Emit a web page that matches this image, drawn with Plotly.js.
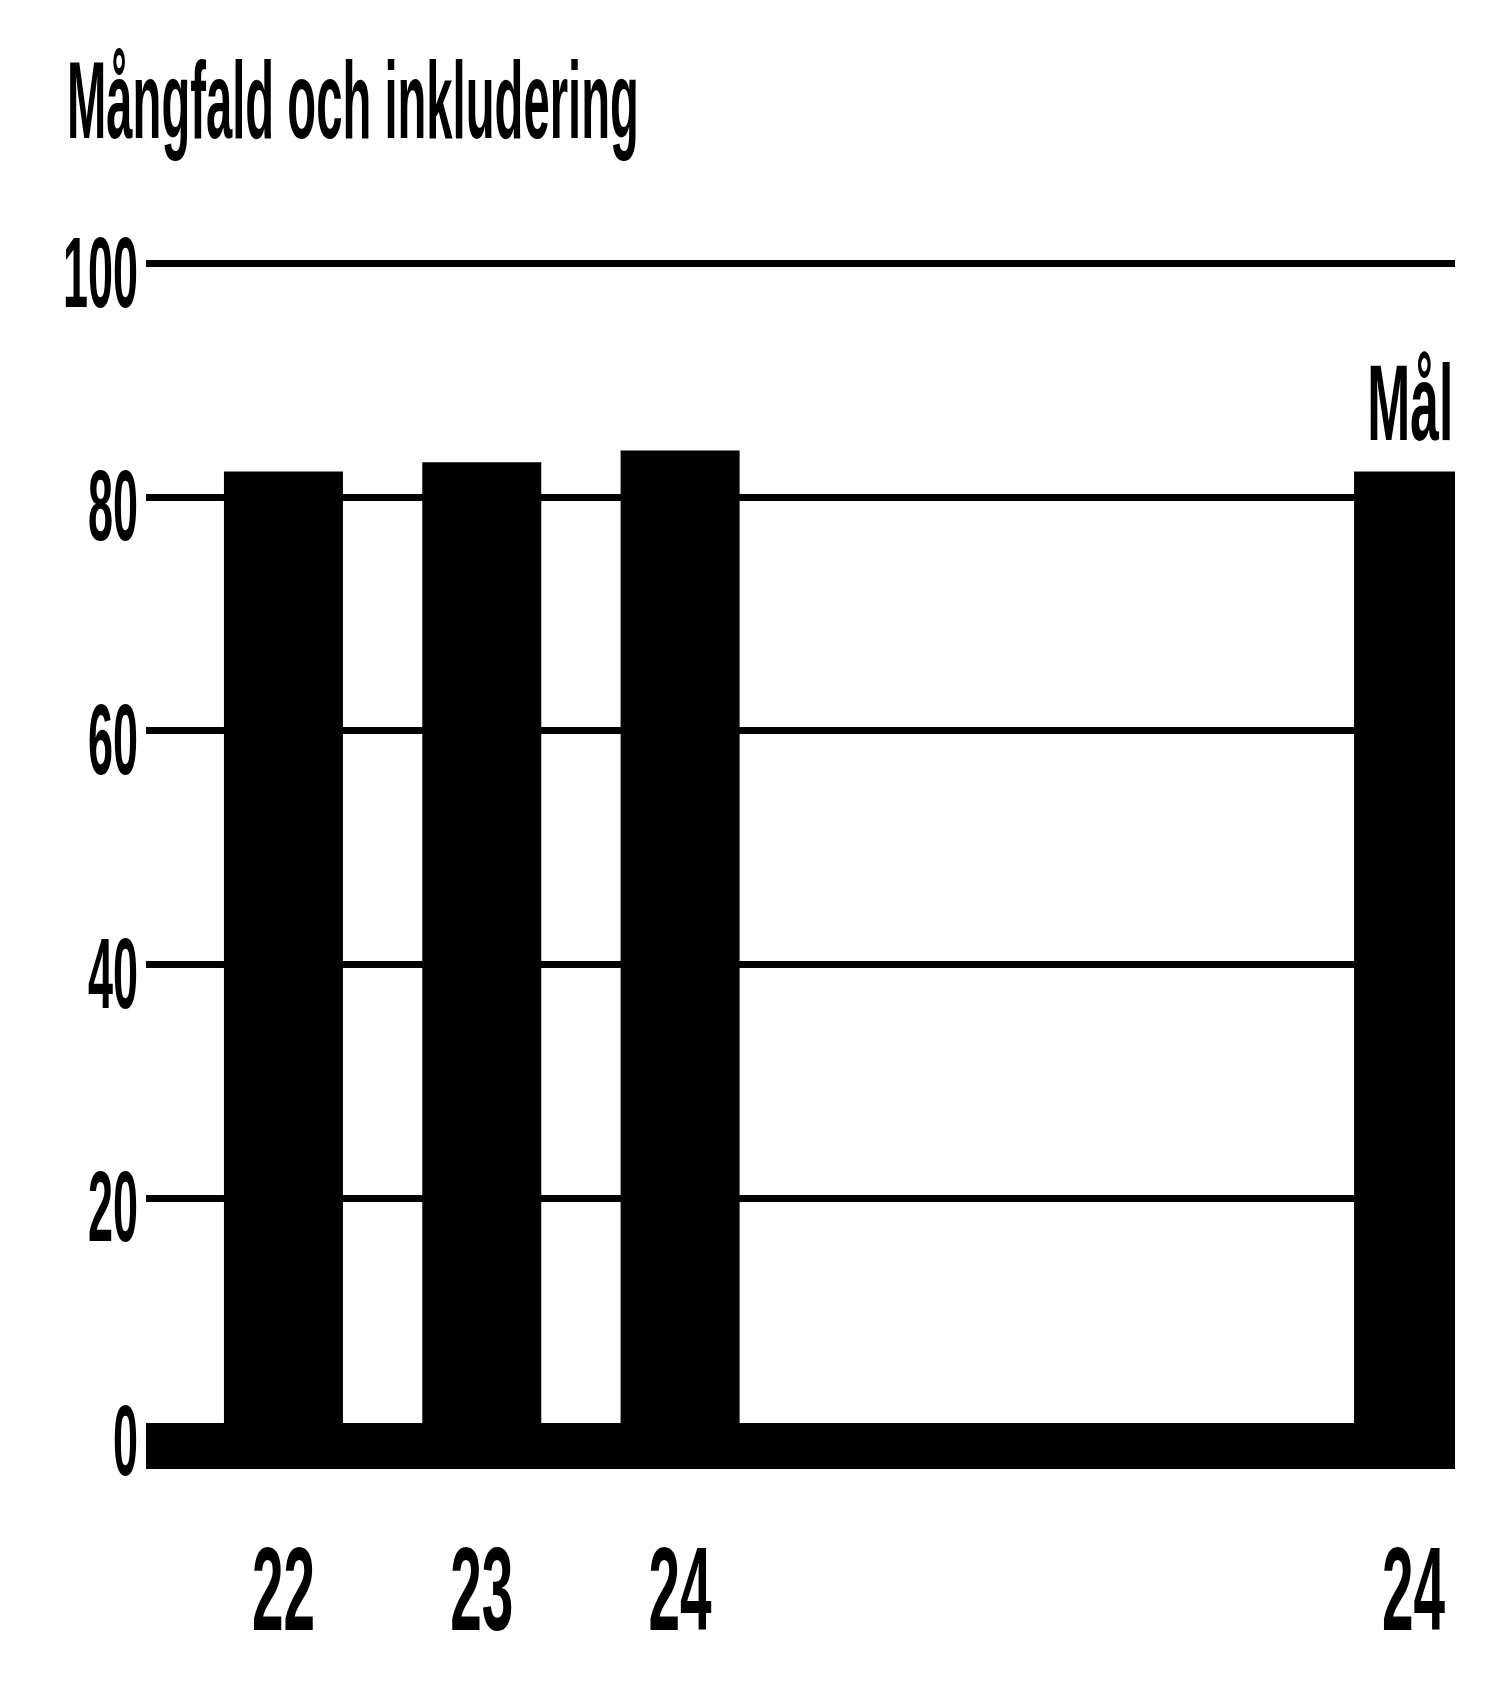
<!DOCTYPE html>
<html>
<head>
<meta charset="utf-8">
<script src="https://cdn.plot.ly/plotly-3.0.1.min.js"></script>
<style>
  html, body { margin: 0; padding: 0; background: #ffffff; }
  #chart { width: 1488px; height: 1683px; }
</style>
</head>
<body>
<div id="chart"></div>
<script>
// ---- data ----
const chartTitle = "Mångfald och inkludering";
const yearLabels = ["22", "23", "24"];
const yearValues = [82.2, 83.0, 84.0];
const targetLabels = ["24"];
const targetValues = [82.2];
const targetCaption = "Mål";
const yTickValues = [0, 20, 40, 60, 80, 100];

const FONT = "Liberation Sans, Arial, sans-serif";
const INK = "#000000";

const traces = [
  {
    type: "bar",
    x: yearLabels,
    y: yearValues,
    xaxis: "x",
    yaxis: "y",
    marker: { color: INK, line: { width: 0 } },
    hoverinfo: "skip",
    showlegend: false
  },
  {
    type: "bar",
    x: targetLabels,
    y: targetValues,
    xaxis: "x2",
    yaxis: "y",
    marker: { color: INK, line: { width: 0 } },
    hoverinfo: "skip",
    showlegend: false
  }
];

const W = 1488, H = 1683;
const mL = 146, mR = 33, mT = 246, mB = 242;
const split = (1000 - mL) / (W - mL - mR);

const xCommon = {
  type: "category",
  showgrid: false,
  zeroline: false,
  showline: true,
  linecolor: INK,
  linewidth: 28,
  ticks: "",
  ticklabelstandoff: 19,
  tickfont: { family: FONT, size: 118, color: INK, weight: "bold" },
  fixedrange: true
};

const layout = {
  width: W,
  height: H,
  paper_bgcolor: "#ffffff",
  plot_bgcolor: "#ffffff",
  margin: { l: mL, r: mR, t: mT, b: mB, pad: 0 },
  bargap: 0.4,
  showlegend: false,
  title: {
    text: chartTitle,
    font: { family: FONT, size: 110, color: INK, weight: "bold" },
    xref: "container",
    x: 67 / W,
    xanchor: "left",
    yref: "container",
    y: 1 - 61 / H,
    yanchor: "top"
  },
  xaxis: Object.assign({}, xCommon, {
    domain: [0, split],
    range: [-0.693, 3.613],
    anchor: "y"
  }),
  xaxis2: Object.assign({}, xCommon, {
    domain: [split, 1],
    range: [-2.085, 0.209],
    anchor: "y"
  }),
  yaxis: {
    range: [-0.77, 101.5],
    tickvals: yTickValues,
    ticktext: yTickValues.map(String),
    showgrid: true,
    gridcolor: INK,
    gridwidth: 7,
    zeroline: true,
    zerolinecolor: INK,
    zerolinewidth: 18,
    showline: false,
    ticks: "",
    ticklabelstandoff: 7,
    tickfont: { family: FONT, size: 100, color: INK, weight: "bold" },
    fixedrange: true
  },
  annotations: [
    {
      xref: "paper",
      x: 1,
      xanchor: "right",
      yref: "y",
      y: targetValues[0],
      yanchor: "bottom",
      yshift: 7,
      text: targetCaption,
      showarrow: false,
      font: { family: FONT, size: 107, color: INK, weight: "bold" }
    }
  ]
};

// horizontally condense text around an anchor (left / right / middle)
function squeeze(selector, sx, mode, dy, targetWidth) {
  document.querySelectorAll(selector).forEach(function (el) {
    var bb = el.getBBox();
    var s = targetWidth ? targetWidth / bb.width : sx;
    var ax = mode === "left" ? bb.x : (mode === "right" ? bb.x + bb.width : bb.x + bb.width / 2);
    var old = el.getAttribute("transform") || "";
    el.setAttribute("transform", old + " translate(" + ax + "," + (dy || 0) + ") scale(" + s + ",1) translate(" + (-ax) + ",0)");
  });
}

Plotly.newPlot("chart", traces, layout, { staticPlot: true, displayModeBar: false }).then(function () {
  squeeze(".gtitle", null, "left", 0, 572);
  squeeze(".ytick text", 0.45, "right", 8);
  squeeze(".xtick text", 0.48, "middle", 0);
  squeeze(".x2tick text", 0.48, "middle", 0);
  squeeze(".annotation-text", null, "right", 0, 86);
});
</script>
</body>
</html>
